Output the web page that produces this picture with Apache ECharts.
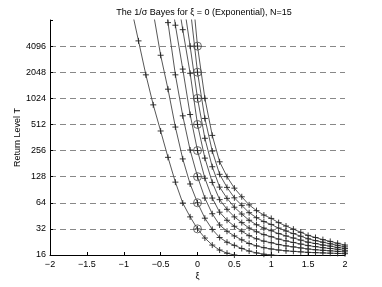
<!DOCTYPE html>
<html><head><meta charset="utf-8">
<script src="https://cdn.jsdelivr.net/npm/echarts@6/dist/echarts.min.js"></script>
<style>html,body{margin:0;padding:0;background:#fff}#c{width:382px;height:287px}</style>
</head><body><div id="c"></div>
<script>
// xi grid, -1.0 .. 2.0 step 0.1
const xiGrid = [-1.0,-0.9,-0.8,-0.7,-0.6,-0.5,-0.4,-0.3,-0.2,-0.1,0,0.1,0.2,0.3,0.4,0.5,0.6,0.7,0.8,0.9,1.0,1.1,1.2,1.3,1.4,1.5,1.6,1.7,1.8,1.9,2.0];
// log2 of return level T for each curve (T at xi=0: 32 ... 4096)
const curveT32   = [null,13.5,12.2,10.9,9.75,8.75,7.74,6.79,5.99,5.46,5,4.65,4.38,4.19,4.07,4.0,3.92,null,null,null,null,null,null,null,null,null,null,null,null,null,null];
const curveT64   = [null,null,null,null,13.3,11.65,10.35,8.9,7.68,6.72,6,5.41,4.98,4.67,4.49,4.37,4.25,4.15,4.08,4.03,4.0,3.98,null,null,null,null,null,null,null,null,null];
const curveT128  = [null,null,null,null,null,15,12.9,10.9,9.33,8.02,7,6.18,5.58,5.15,4.91,4.73,4.58,4.44,4.35,4.28,4.23,4.19,4.16,4.14,4.12,4.10,4.09,4.08,4.07,4.06,4.05];
const curveT256  = [null,null,null,null,null,null,14.8,12.8,11.12,9.38,8,6.94,6.18,5.64,5.33,5.10,4.91,4.74,4.62,4.53,4.47,4.40,4.35,4.31,4.27,4.23,4.20,4.18,4.16,4.14,4.12];
const curveT512  = [null,null,null,null,null,null,null,14.4,12.63,10.96,9,7.71,6.78,6.12,5.75,5.46,5.24,5.03,4.89,4.78,4.70,4.61,4.54,4.48,4.42,4.36,4.32,4.28,4.25,4.22,4.18];
const curveT1024 = [null,null,null,null,null,null,null,null,13.9,12.0,10,8.47,7.38,6.60,6.17,5.83,5.57,5.33,5.16,5.03,4.93,4.82,4.73,4.65,4.57,4.49,4.44,4.38,4.34,4.29,4.25];
const curveT2048 = [null,null,null,null,null,null,null,null,16,13.5,11,9.23,7.98,7.09,6.59,6.19,5.90,5.62,5.43,5.28,5.17,5.03,4.92,4.82,4.72,4.62,4.55,4.49,4.43,4.37,4.31];
const curveT4096 = [null,null,null,null,null,null,null,null,null,15,12,10.0,8.58,7.57,7.0,6.56,6.23,5.92,5.70,5.53,5.40,5.24,5.11,4.99,4.87,4.75,4.67,4.59,4.52,4.45,4.38];
const curves = [curveT32,curveT64,curveT128,curveT256,curveT512,curveT1024,curveT2048,curveT4096];
const exactLevels = [32,64,128,256,512,1024,2048,4096];
const yTicks = [16,32,64,128,256,512,1024,2048,4096];
const xTicks = [-2,-1.5,-1,-0.5,0,0.5,1,1.5,2];

const FONT = 'Liberation Sans';
const plus = 'path://M0,5L10,5M5,0L5,10';
const series = curves.map(c => ({
  type:'line',
  data: xiGrid.map((x,i)=> c[i]==null ? null : [x, Math.pow(2, c[i])]).filter(d=>d),
  symbol: plus, symbolSize: 6, showAllSymbol: true,
  lineStyle:{color:'#444', width:0.9},
  itemStyle:{color:'#222', borderColor:'#222', borderWidth:0.9},
  clip:true, silent:true, animation:false
}));
series.push({
  type:'scatter', data: exactLevels.map(v=>[0,v]),
  symbol:'circle', symbolSize:8,
  itemStyle:{color:'rgba(0,0,0,0)', borderColor:'#333', borderWidth:0.9},
  silent:true, animation:false, clip:false
});

const chart = echarts.init(document.getElementById('c'), null, {renderer:'canvas'});
chart.setOption({
  animation:false,
  title:{text:'The 1/\u03c3 Bayes for \u03be = 0 (Exponential), N=15', left:199, top:3, textAlign:'center',
    textStyle:{fontSize:9, fontWeight:'normal', fontFamily:FONT, color:'#000'}},
  grid:{left:50, right:37, top:20, bottom:32},
  xAxis:{type:'value', min:-2, max:2, interval:0.5,
    name:'\u03be', nameLocation:'middle', nameGap:17, nameMoveOverlap:false,
    nameTextStyle:{fontSize:9, fontFamily:FONT, color:'#000'},
    axisLine:{onZero:false, lineStyle:{color:'#000', width:1}},
    axisTick:{inside:true, length:3, lineStyle:{color:'#000'}},
    axisLabel:{fontSize:9, fontFamily:FONT, color:'#000', margin:5,
      formatter:v=> xTicks.includes(v) ? String(v).replace('-','\u2212') : ''},
    splitLine:{show:false}},
  yAxis:{type:'log', logBase:2, min:16, max:8192, splitNumber:9,
    name:'Return Level T', nameLocation:'middle', nameGap:28, nameMoveOverlap:false,
    nameTextStyle:{fontSize:9, fontFamily:FONT, color:'#000'},
    axisLine:{onZero:false, lineStyle:{color:'#000', width:1}},
    axisTick:{inside:true, length:3, lineStyle:{color:'#000'}},
    axisLabel:{fontSize:9, fontFamily:FONT, color:'#000', margin:4,
      formatter:v=> yTicks.includes(Math.round(v)) ? String(Math.round(v)) : ''},
    splitLine:{show:true, showMinLine:false, showMaxLine:false, lineStyle:{type:[6,4], color:'#888', width:1}}},
  series
});
</script></body></html>
